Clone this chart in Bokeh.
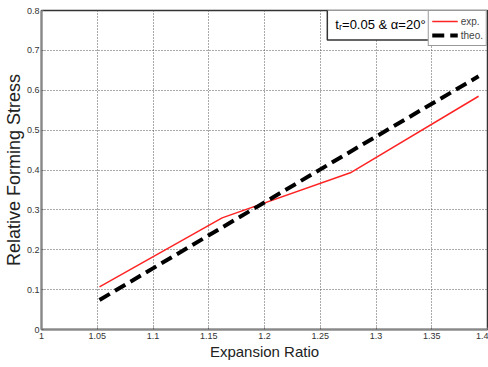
from bokeh.plotting import figure
from bokeh.models import Label, Legend, LegendItem, FixedTicker, Range1d
from bokeh.embed import file_html
from bokeh.resources import INLINE

# data
x_exp = [1.052, 1.162, 1.277, 1.392]
y_exp = [0.107, 0.280, 0.393, 0.585]
x_theo = [1.052, 1.162, 1.277, 1.392]
y_theo = [0.074, 0.256, 0.446, 0.635]

x_ticks = [1.0, 1.05, 1.1, 1.15, 1.2, 1.25, 1.3, 1.35, 1.4]
x_tick_labels = ["1", "1.05", "1.1", "1.15", "1.2", "1.25", "1.3", "1.35", "1.4"]
y_ticks = [0.0, 0.1, 0.2, 0.3, 0.4, 0.5, 0.6, 0.7, 0.8]
y_tick_labels = ["0", "0.1", "0.2", "0.3", "0.4", "0.5", "0.6", "0.7", "0.8"]
x_title = "Expansion Ratio"
y_title = "Relative Forming Stress"

SANS = "Liberation Sans"
TICK_SIZE = "9px"
TICK_COLOR = "#333333"

p = figure(width=488, height=367, output_backend="svg", toolbar_location=None,
           x_range=Range1d(x_ticks[0], x_ticks[-1]), y_range=Range1d(y_ticks[0], y_ticks[-1]),
           min_border_left=41, min_border_right=1, min_border_top=10, min_border_bottom=38)
p.background_fill_color = "white"
p.border_fill_color = "white"
p.outline_line_color = "#333333"
p.outline_line_width = 1.5

r_exp = p.line(x_exp, y_exp, line_color="#ff2424", line_width=1.5)
r_theo = p.line(x_theo, y_theo, line_color="black", line_width=4, line_dash="12 6")

axis_specs = ((p.xaxis[0], x_ticks, x_tick_labels), (p.yaxis[0], y_ticks, y_tick_labels))
for ax, ticks, labels in axis_specs:
    ax.ticker = FixedTicker(ticks=ticks, minor_ticks=[])
    ax.major_label_overrides = {t: l for t, l in zip(ticks, labels)}
    ax.major_label_text_font = SANS
    ax.major_label_text_font_size = TICK_SIZE
    ax.major_label_text_color = TICK_COLOR
    ax.axis_line_color = "#888888"
    ax.axis_line_width = 2
    ax.major_tick_out = 0
    ax.major_tick_in = 2
    ax.major_tick_line_color = "#666666"
    ax.minor_tick_line_color = None
    ax.major_label_standoff = 3
    ax.axis_label_standoff = 1
    ax.axis_label_text_font = SANS
    ax.axis_label_text_font_style = "normal"
    ax.axis_label_text_color = "#222222"

p.yaxis.major_label_standoff = 2
p.yaxis.axis_label_standoff = 0
p.xaxis.axis_label = x_title
p.xaxis.axis_label_text_font_size = "15px"
p.yaxis.axis_label = y_title
p.yaxis.axis_label_text_font_size = "18px"

p.grid.grid_line_color = "#555555"
p.grid.grid_line_dash = "1 2"
p.grid.grid_line_width = 1
p.xgrid.ticker = FixedTicker(ticks=x_ticks)
p.ygrid.ticker = FixedTicker(ticks=y_ticks)

legend = Legend(items=[LegendItem(label="exp.", renderers=[r_exp]),
                       LegendItem(label="theo.", renderers=[r_theo])],
                location="top_right", margin=0, padding=3, spacing=0,
                label_text_font=SANS, label_text_font_size="10px",
                label_standoff=3, glyph_width=26, glyph_height=14, label_height=14,
                border_line_color="#333333", border_line_width=1.5,
                background_fill_color="white", background_fill_alpha=1)
p.add_layout(legend)

note = Label(x=1.304, y=0.765, text="tᵣ=0.05 & α=20°", text_align="center",
             text_baseline="middle", text_font=SANS, text_font_size="13px",
             text_color="black", border_line_color="#333333", border_line_width=1.5,
             background_fill_color="white", padding=8)
p.add_layout(note)

open("out.html", "w").write(file_html(p, INLINE))
